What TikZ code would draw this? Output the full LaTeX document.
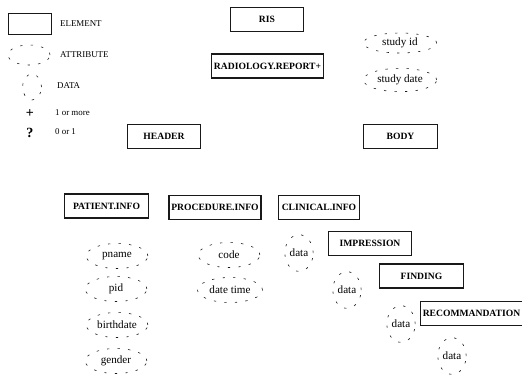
\documentclass[tikz,border=0pt]{standalone}
\usepackage{fontspec}
\setmainfont{Liberation Serif}
\usetikzlibrary{positioning, shapes.geometric}
\definecolor{Ink}{RGB}{25,25,25}

\tikzset{
  elem/.style={draw=Ink, line width=1.1pt, minimum width=2.2cm, minimum height=0.72cm,
    inner xsep=2pt, font=\fontsize{8.2}{10}\selectfont\bfseries},
  attr/.style={ellipse, draw=Ink, line width=0.5pt, dash pattern=on 2pt off 7pt,
    minimum width=1.85cm, minimum height=0.75cm, inner sep=0pt, font=\fontsize{9.5}{10}\selectfont},
  datum/.style={attr, minimum width=0.85cm, minimum height=1.1cm},
  legtext/.style={anchor=west, font=\fontsize{7.6}{8}\selectfont},
}

\begin{document}
\begin{tikzpicture}[x=0.03cm, y=-0.03cm]
    \useasboundingbox (0,0) rectangle (522,378);

    % Legend
    \node[elem, minimum width=1.3cm, minimum height=0.63cm] (legelem) at (30,24) {};
    \node[legtext] (legelemtxt) at (56,24) {ELEMENT};
    \node[attr, minimum width=1.26cm, minimum height=0.6cm] (legattr) at (29,55) {};
    \node[legtext] (legattrtxt) at (56,55) {ATTRIBUTE};
    \node[attr, minimum width=0.57cm, minimum height=0.78cm] (legdata) at (32,87) {};
    \node[legtext] (legdatatxt) at (53,86) {DATA};
    \node[font=\bfseries\large] (legplus) at (30,114) {+};
    \node[legtext] (legplustxt) at (51,113) {1 or more};
    \node[font=\bfseries\large] (legopt) at (30,133) {?};
    \node[legtext] (legopttxt) at (51,132) {0 or 1};

    % Root and report
    \node[elem] (ris) at (267,19.5) {RIS};
    \node[elem] (report) at (267.5,66) {RADIOLOGY.REPORT+};
    \node[attr, minimum width=2.2cm, minimum height=0.6cm] (studyid) at (400,43) {study id};
    \node[attr, minimum width=2.2cm, minimum height=0.7cm] (studydate) at (400,80) {study date};

    % Header and body
    \node[elem] (header) at (164,136.5) {HEADER};
    \node[elem] (body) at (400.5,136.5) {BODY};

    % Header parts
    \node[elem, minimum width=2.5cm] (patient) at (106.5,206) {PATIENT.INFO};
    \node[elem] (procedure) at (215,207.5) {PROCEDURE.INFO};
    \node[attr] (pname) at (117,256) {pname};
    \node[attr] (pid) at (116,289) {pid};
    \node[attr] (birthdate) at (117,325) {birthdate};
    \node[attr] (gender) at (116,361) {gender};
    \node[attr] (code) at (229,255) {code};
    \node[attr, minimum width=1.95cm] (datetime) at (230,290) {date time};

    % Body parts
    \node[elem, minimum width=2.45cm] (clinical) at (319,207.5) {CLINICAL.INFO};
    \node[datum] (clindata) at (299,253) {data};
    \node[elem, minimum width=2.5cm] (impression) at (370,243.5) {IMPRESSION};
    \node[datum] (impdata) at (347,290) {data};
    \node[elem, minimum width=2.5cm] (finding) at (421.5,276) {FINDING};
    \node[datum] (finddata) at (401,324) {data};
    \node[elem, minimum width=3.0cm] (recomm) at (471.5,313.5) {RECOMMANDATION};
    \node[datum] (recdata) at (452,356) {data};
\end{tikzpicture}
\end{document}
